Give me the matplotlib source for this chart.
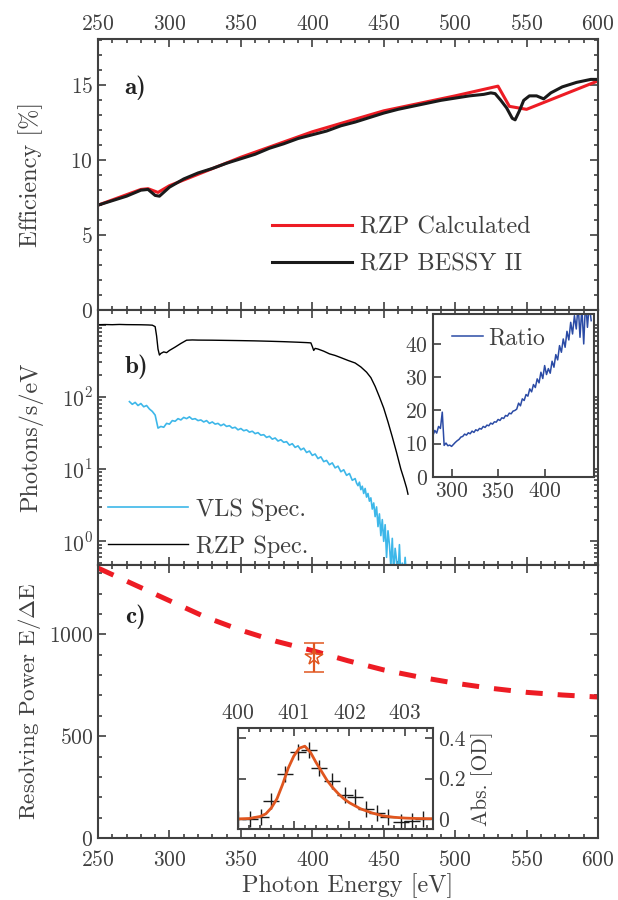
import numpy as np
import matplotlib
matplotlib.use('Agg')
import matplotlib.pyplot as plt
from matplotlib.ticker import MultipleLocator, FixedLocator, FuncFormatter, LogLocator, NullFormatter

# ---- panel a: grating efficiency ----
calc_e = [250, 280, 285, 292, 300, 350, 400, 450, 500, 530, 538, 550, 600]
calc_eff = [7.0, 8.05, 8.1, 7.85, 8.3, 10.2, 11.9, 13.3, 14.3, 14.95, 13.6, 13.4, 15.3]

bessy_e = [250, 260, 270, 280, 285, 290, 293, 300, 310, 320, 330, 340, 350, 360, 370,
           380, 390, 400, 410, 420, 430, 440, 450, 460, 470, 480, 490, 500, 510, 520,
           525, 528, 532, 536, 540, 542, 545, 548, 552, 557, 562, 567, 575, 585, 595, 600]
bessy_eff = [7.0, 7.3, 7.6, 8.0, 8.05, 7.65, 7.6, 8.2, 8.75, 9.15, 9.45, 9.8, 10.1, 10.4, 10.8,
             11.1, 11.45, 11.7, 11.95, 12.3, 12.55, 12.85, 13.15, 13.4, 13.6, 13.8, 14.0, 14.15, 14.3, 14.4,
             14.5, 14.45, 14.0, 13.5, 12.8, 12.7, 13.3, 14.0, 14.3, 14.3, 14.1, 14.5, 14.9, 15.2, 15.4, 15.4]

# ---- panel b: spectra ----
vls_e = list(range(272, 431, 2)) + list(range(431, 467))
vls_flux = [86, 79, 84, 76, 81, 73, 76, 68, 63, 56,
            37, 39, 38, 43, 42, 47, 46, 50, 48, 52,
            50, 53, 49, 50, 47, 48, 45, 47, 43, 45,
            42, 43, 40, 42, 39, 40, 37, 38, 35, 36.5,
            34, 35, 32.5, 33.5, 31, 32, 29.5, 30, 27.5, 28.5,
            26, 27, 24.5, 25.5, 23.5, 24, 21.5, 22.5, 20, 21,
            18.5, 19.5, 17, 17.8, 15.5, 16.2, 14, 14.8, 12.7, 13.2,
            11.5, 12.2, 10.4, 11, 9.2, 9.8, 8.2, 8.7, 7, 7.4,
            6.4, 5.9, 6.6, 5.2, 5.8, 4.6, 5.4, 4.1, 4.6, 3.6,
            4.0, 2.8, 3.4, 2.2, 3.0, 1.6, 2.4, 1.2, 2.0, 1.0,
            1.7, 0.6, 1.4, 0.9, 0.45, 1.1, 0.35, 0.8, 0.55, 0.3,
            0.9, 0.3, 0.5, 0.3, 0.6, 0.3]

rzp_e = [250, 255, 260, 265, 270, 275, 280, 285, 288, 290, 291, 292, 293, 294, 296, 298,
         300, 304, 308, 312, 316, 320, 330, 340, 350, 360, 370, 380, 390, 396, 399, 400,
         401, 402, 404, 408, 412, 416, 420, 425, 430, 434, 438, 441, 444, 447, 450, 453,
         456, 459, 462, 464, 466, 467]
rzp_flux = [1000, 1005, 1000, 1008, 1002, 1000, 998, 992, 985, 940, 700, 460, 380, 400, 420, 410,
            440, 490, 550, 610, 615, 612, 610, 606, 602, 597, 590, 582, 572, 565, 560, 500,
            440, 470, 460, 430, 395, 375, 350, 320, 295, 260, 220, 185, 140, 100, 70, 45,
            28, 17, 10, 7.5, 5.5, 4.5]

ratio_e = list(range(280, 451, 2))
ratio = [12.5, 14.0, 13.2, 15.2, 14.6, 19.5, 9.5, 10.2, 9.4, 9.6,
         9.2, 9.8, 10.4, 10.9, 11.3, 12.0, 12.2, 12.9, 12.6, 13.3,
         13.0, 13.8, 13.4, 14.2, 13.9, 14.6, 14.4, 15.2, 14.9, 15.6,
         15.4, 16.2, 15.9, 16.6, 16.5, 17.3, 17.0, 17.8, 17.6, 18.5,
         18.3, 19.2, 19.0, 19.8, 20.0, 20.4, 22.2, 21.4, 23.5, 23.0,
         24.8, 24.3, 26.5, 25.6, 27.8, 26.9, 29.5, 28.3, 31.5, 29.6,
         33.5, 30.8, 32.6, 31.2, 34.8, 33.0, 36.8, 35.2, 39.5, 37.5,
         41.5, 39.0, 43.8, 41.2, 46.5, 43.0, 48.5, 44.5, 52, 42,
         51, 40, 53, 45, 52, 47]

# ---- panel c: resolving power ----
rp_e = [250, 275, 300, 325, 350, 375, 400, 425, 450, 475, 500, 525, 550, 575, 600]
rp_calc = [1325, 1245, 1165, 1085, 1020, 965, 920, 870, 825, 790, 760, 735, 715, 702, 692]
rp_meas_e = [401.3]
rp_meas = [887]
rp_meas_err = [70]

abs_e = [400.0, 400.22, 400.42, 400.6, 400.85, 401.07, 401.27, 401.45, 401.68, 401.92,
         402.1, 402.3, 402.5, 402.7, 402.92, 403.12, 403.32]
abs_od = [0.0, 0.0, 0.01, 0.09, 0.22, 0.33, 0.34, 0.25, 0.19, 0.12,
          0.11, 0.05, 0.03, 0.01, -0.015, -0.01, 0.0]
fit_e = [400.0, 400.2, 400.4, 400.5, 400.6, 400.7, 400.8, 400.9, 401.0, 401.1, 401.2, 401.3,
         401.4, 401.5, 401.6, 401.7, 401.8, 401.9, 402.0, 402.2, 402.4, 402.6, 402.8, 403.0,
         403.2, 403.5]
fit_od = [0.0, 0.002, 0.012, 0.025, 0.055, 0.1, 0.17, 0.25, 0.31, 0.35, 0.36, 0.33,
          0.28, 0.235, 0.19, 0.155, 0.125, 0.1, 0.08, 0.05, 0.03, 0.015, 0.008, 0.004,
          0.002, 0.001]

# ---- style ----
grey = '#404040'
plt.rcParams['font.family'] = 'serif'
plt.rcParams['font.serif'] = ['cmr10']
plt.rcParams['mathtext.fontset'] = 'cm'
plt.rcParams['axes.unicode_minus'] = False
plt.rcParams['axes.formatter.use_mathtext'] = True
plt.rcParams['font.size'] = 15
plt.rcParams['text.color'] = grey
plt.rcParams['axes.labelcolor'] = grey
plt.rcParams['xtick.color'] = grey
plt.rcParams['ytick.color'] = grey
plt.rcParams['axes.edgecolor'] = grey
plt.rcParams['axes.linewidth'] = 1.5

LEG = 17.5   # legend / axis label size
TICK = 15.5


def style_ticks(ax):
    ax.tick_params(which='both', direction='in', top=True, right=True, width=1.2)
    ax.tick_params(which='major', length=6, labelsize=TICK)
    ax.tick_params(which='minor', length=3)


fig = plt.figure(figsize=(6.18, 9.0), dpi=100)
left, width = 0.1586, 0.809
ax_a = fig.add_axes([left, 0.6556, width, 0.3011])
ax_b = fig.add_axes([left, 0.3722, width, 0.2834])
ax_c = fig.add_axes([left, 0.0689, width, 0.3033])

for ax in (ax_a, ax_b, ax_c):
    ax.set_xlim(250, 600)
    ax.xaxis.set_major_locator(MultipleLocator(50))
    ax.xaxis.set_minor_locator(MultipleLocator(10))
    style_ticks(ax)

# a)
ax_a.plot(calc_e, calc_eff, color='#ED1C24', lw=2.2, label='RZP Calculated')
ax_a.plot(bessy_e, bessy_eff, color='#1a1a1a', lw=2.2, label='RZP BESSY II')
ax_a.set_ylim(0, 18.1)
ax_a.yaxis.set_major_locator(MultipleLocator(5))
ax_a.yaxis.set_minor_locator(MultipleLocator(1))
ax_a.tick_params(labeltop=True, labelbottom=False)
ax_a.set_ylabel('Efficiency [%]', fontsize=LEG)
ax_a.legend(loc='center left', bbox_to_anchor=(0.348, 0.235), frameon=False,
            handlelength=3.3, handletextpad=0.3, borderpad=0, borderaxespad=0,
            labelspacing=0.6, fontsize=LEG)
ax_a.text(0.074, 0.82, 'a)', transform=ax_a.transAxes, family='cmb10', fontsize=18,
          color='#222222', ha='center', va='center')

# b)
ax_b.plot(vls_e, vls_flux, color='#3DB7E9', lw=1.2, label='VLS Spec.')
ax_b.plot(rzp_e, rzp_flux, color='black', lw=1.0, label='RZP Spec.')
ax_b.set_yscale('log')
ax_b.set_ylim(0.47, 1600)
ax_b.yaxis.set_major_locator(FixedLocator([1, 10, 100, 1000]))
ax_b.yaxis.set_major_formatter(FuncFormatter(
    lambda v, p: '' if v > 500 else r'$10^{%d}$' % round(np.log10(v))))
ax_b.yaxis.set_minor_locator(LogLocator(base=10, subs=np.arange(2, 10), numticks=20))
ax_b.yaxis.set_minor_formatter(NullFormatter())
ax_b.tick_params(labelbottom=False)
ax_b.set_ylabel('Photons/s/eV', fontsize=LEG)
ax_b.legend(loc='center left', bbox_to_anchor=(0.02, 0.145), frameon=False,
            handlelength=3.3, handletextpad=0.3, borderpad=0, borderaxespad=0,
            labelspacing=0.6, fontsize=LEG)
ax_b.text(0.076, 0.776, 'b)', transform=ax_b.transAxes, family='cmb10', fontsize=18,
          color='#222222', ha='center', va='center')

ax_r = fig.add_axes([0.7006, 0.47, 0.2605, 0.1811])
ax_r.plot(ratio_e, ratio, color='#2B4BA5', lw=1.1, label='Ratio')
ax_r.set_xlim(280, 453)
ax_r.set_ylim(0, 49)
ax_r.xaxis.set_major_locator(FixedLocator([300, 350, 400]))
ax_r.yaxis.set_major_locator(MultipleLocator(10))
style_ticks(ax_r)
ax_r.tick_params(which='both', top=False, right=False)
ax_r.legend(loc='center left', bbox_to_anchor=(0.117, 0.853), frameon=False,
            handlelength=1.3, handletextpad=0.25, borderpad=0, borderaxespad=0,
            fontsize=17)

# c)
ax_c.plot(rp_e, rp_calc, color='#ED1C24', lw=3.6, dashes=(3.4, 3.0))
ax_c.errorbar(rp_meas_e, rp_meas, yerr=rp_meas_err, fmt='*', color='#E0561F',
              mfc='none', ms=13, mew=1.1, capsize=7, elinewidth=1.6, capthick=1.6)
ax_c.set_ylim(0, 1340)
ax_c.yaxis.set_major_locator(MultipleLocator(500))
ax_c.yaxis.set_minor_locator(MultipleLocator(100))
ax_c.tick_params(axis='x', which='major', pad=9)
ax_c.set_ylabel(r'Resolving Power E/$\Delta$E', fontsize=16.5)
ax_c.set_xlabel('Photon Energy [eV]', fontsize=LEG, labelpad=2)
ax_c.text(0.074, 0.81, 'c)', transform=ax_c.transAxes, family='cmb10', fontsize=18,
          color='#222222', ha='center', va='center')

ax_i = fig.add_axes([0.3851, 0.0789, 0.3155, 0.1122])
ax_i.plot(abs_e, abs_od, '+', color='#1a1a1a', ms=12, mew=1.0)
ax_i.plot(fit_e, fit_od, color='#E0561F', lw=2.0)
ax_i.set_xlim(400, 403.5)
ax_i.set_ylim(-0.05, 0.45)
ax_i.xaxis.set_major_locator(MultipleLocator(1))
ax_i.xaxis.set_minor_locator(MultipleLocator(0.2))
ax_i.yaxis.set_major_locator(FixedLocator([0, 0.2, 0.4]))
ax_i.yaxis.set_major_formatter(FuncFormatter(lambda v, p: '0' if abs(v) < 1e-9 else '%.1f' % v))
style_ticks(ax_i)
ax_i.tick_params(labeltop=True, labelbottom=False, labelright=True, labelleft=False)
ax_i.yaxis.set_label_position('right')
ax_i.set_ylabel('Abs. [OD]', fontsize=15.5)

for ax in (ax_a, ax_b, ax_c):
    ax.yaxis.set_label_coords(-0.11, 0.5)

fig.savefig('out.png', dpi=100)
